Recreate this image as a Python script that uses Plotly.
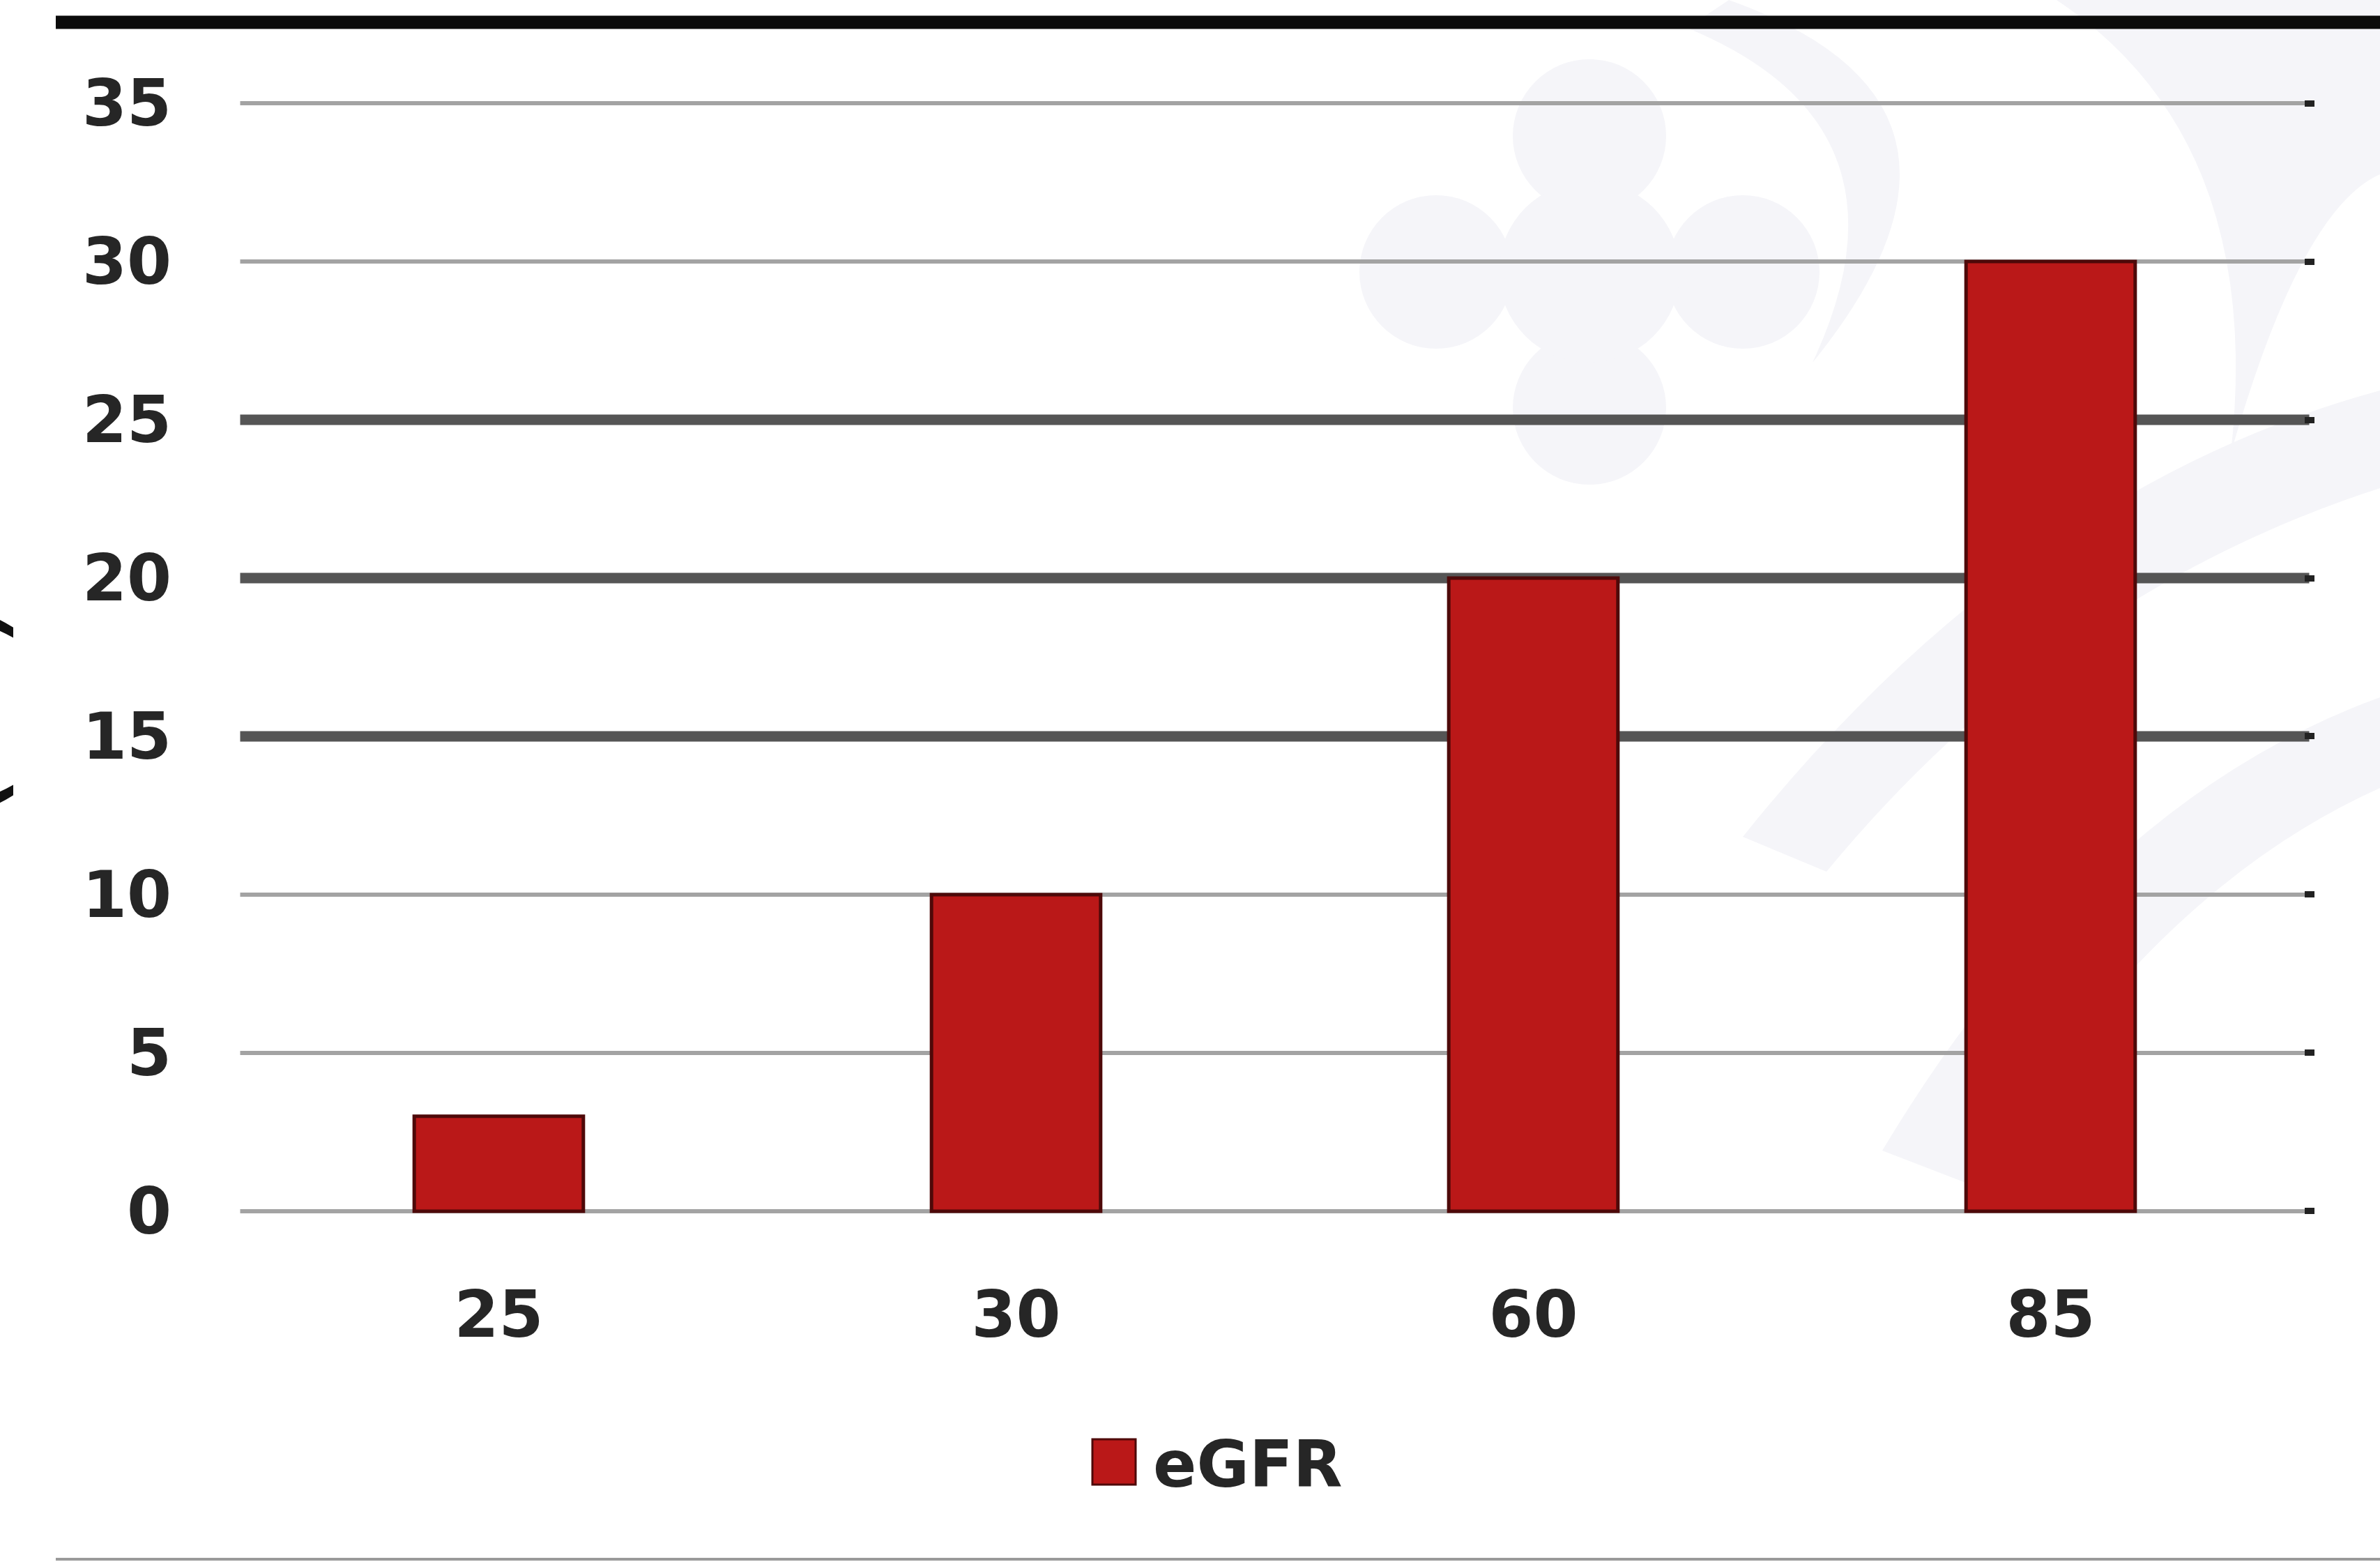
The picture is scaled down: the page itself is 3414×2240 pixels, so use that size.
import plotly.graph_objects as go

# ---------------- data ----------------
categories = ["25", "30", "60", "85"]
values = [3, 10, 20, 30]
series_name = "eGFR"
y_ticks = [0, 5, 10, 15, 20, 25, 30, 35]
emphasis_ticks = [15, 20, 25]
axis_title_fragment = "(%)"

# ---------------- geometry / style ----------------
W, H = 3414, 2240
L, R = 337, 3320          # plot area left/right in px
T, B = 139, 1746          # plot area top/bottom in px
Y_RANGE = [-0.2, 35.2]

BAR_COLOR = "#BA1818"
BAR_EDGE = "#4e0909"
LIGHT_GRID = "#a3a3a3"
DARK_GRID = "#555555"
TEXT = "#262626"
WM = "#f5f5f9"
FONT = "DejaVu Sans"


def px(x, y):
    """pixel -> paper coordinates"""
    return (x - L) / (R - L), (B - y) / (B - T)


fig = go.Figure()

fig.add_trace(go.Bar(
    x=categories, y=values, name=series_name,
    marker=dict(color=BAR_COLOR, line=dict(color=BAR_EDGE, width=5)),
    showlegend=False,
))
# helper trace so the right-hand tick axis is drawn
fig.add_trace(go.Scatter(
    x=[categories[0]], y=[0], yaxis="y2", mode="markers",
    marker=dict(opacity=0), hoverinfo="skip", showlegend=False,
))

shapes = []

# faint watermark (paper coords, below everything)
def circle(cx, cy, r):
    x0, y0 = px(cx - r, cy + r)
    x1, y1 = px(cx + r, cy - r)
    return dict(type="circle", xref="paper", yref="paper", x0=x0, y0=y0,
                x1=x1, y1=y1, fillcolor=WM, line=dict(width=0), layer="below")

for (cx, cy, r) in [(2280, 195, 110), (2280, 585, 110), (2060, 390, 110),
                    (2500, 390, 110), (2280, 390, 130)]:
    shapes.append(circle(cx, cy, r))


def path_from_px(points):
    segs = []
    for cmd, pts in points:
        coords = " ".join("%.5f,%.5f" % px(a, b) for a, b in pts)
        segs.append(cmd + coords)
    return " ".join(segs) + " Z"

swooshes = [
    [("M", [(2480, 0)]), ("Q", [(2900, 150), (2600, 520)]),
     ("Q", [(2760, 180), (2420, 40)])],
    [("M", [(2500, 1200)]), ("Q", [(2900, 700), (3414, 560)]),
     ("L", [(3414, 700)]), ("Q", [(2950, 850), (2620, 1250)])],
    [("M", [(2700, 1650)]), ("Q", [(3000, 1150), (3414, 1000)]),
     ("L", [(3414, 1130)]), ("Q", [(3080, 1280), (2830, 1700)])],
    [("M", [(2950, 0)]), ("Q", [(3250, 200), (3200, 650)]),
     ("Q", [(3300, 300), (3414, 250)]), ("L", [(3414, 0)])],
]
for s in swooshes:
    shapes.append(dict(type="path", xref="paper", yref="paper",
                       path=path_from_px(s), fillcolor=WM,
                       line=dict(width=0), layer="below"))

# gridlines drawn in data coordinates (light ones and emphasised dark ones)
for v in y_ticks:
    dark = v in emphasis_ticks
    shapes.append(dict(type="line", xref="x", yref="y",
                       x0=-0.5, x1=len(categories) - 0.5, y0=v, y1=v,
                       line=dict(color=DARK_GRID if dark else LIGHT_GRID,
                                 width=15 if dark else 6),
                       layer="below"))

# top black rule and bottom grey rule
x0, y0 = px(80, 32)
x1, _ = px(W + 5, 32)
shapes.append(dict(type="line", xref="paper", yref="paper", x0=x0, x1=x1,
                   y0=y0, y1=y0, line=dict(color="#0b0b0b", width=19)))
x0, y0 = px(80, 2236)
shapes.append(dict(type="line", xref="paper", yref="paper", x0=x0, x1=x1,
                   y0=y0, y1=y0, line=dict(color="#9a9a9a", width=4)))

# manual legend swatch
lx0, ly0 = px(1567, 2129)
lx1, ly1 = px(1629, 2064)
shapes.append(dict(type="rect", xref="paper", yref="paper", x0=lx0, y0=ly0,
                   x1=lx1, y1=ly1, fillcolor=BAR_COLOR,
                   line=dict(color=BAR_EDGE, width=3)))

annotations = []
tx, ty = px(1652, 2100)
annotations.append(dict(text=series_name, xref="paper", yref="paper", x=tx, y=ty,
                        xanchor="left", yanchor="middle", showarrow=False,
                        font=dict(family=FONT, size=92, color=TEXT, weight="bold")))
# clipped y-axis title fragment at the very left edge
ax_, ay_ = px(40, 1020)
annotations.append(dict(text=axis_title_fragment, xref="paper", yref="paper",
                        x=ax_, y=ay_, xanchor="right", yanchor="middle",
                        textangle=-90, showarrow=False,
                        font=dict(family=FONT, size=190, color="#111111")))

fig.update_layout(
    width=W, height=H,
    margin=dict(l=L, r=W - R, t=T, b=H - B, pad=0),
    paper_bgcolor="white", plot_bgcolor="rgba(0,0,0,0)",
    bargap=0.673,
    showlegend=False,
    shapes=shapes, annotations=annotations,
    xaxis=dict(type="category", showgrid=False, showline=False, zeroline=False,
               ticks="", ticklabelstandoff=78,
               tickfont=dict(family=FONT, size=92, color=TEXT, weight="bold")),
    yaxis=dict(range=Y_RANGE, tickvals=y_ticks, ticktext=[str(v) for v in y_ticks],
               showgrid=False, zeroline=False, showline=False, ticks="",
               ticklabelstandoff=90,
               tickfont=dict(family=FONT, size=92, color=TEXT, weight="bold")),
    yaxis2=dict(range=Y_RANGE, overlaying="y", side="right", tickvals=y_ticks,
                showticklabels=False, showgrid=False, zeroline=False,
                showline=False, ticks="inside", ticklen=14, tickwidth=9,
                tickcolor="#222222"),
)

fig.write_html("out.html")
